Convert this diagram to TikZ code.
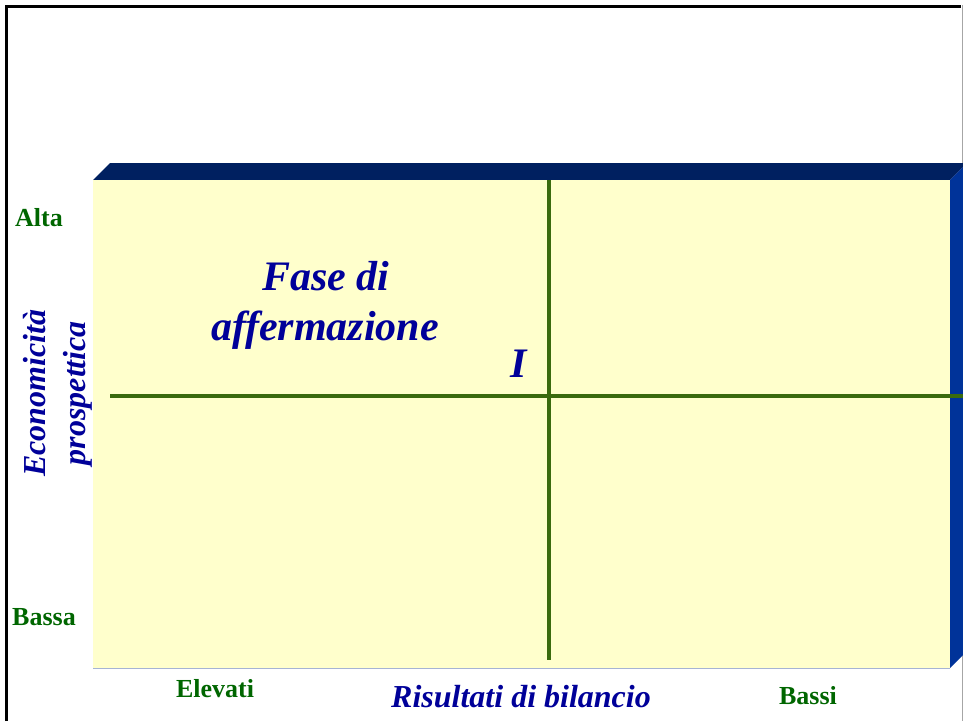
\documentclass[tikz,border=0pt]{standalone}
\usepackage{fontspec}
\setmainfont{Liberation Serif}
\definecolor{panel}{HTML}{FFFFCC}
\definecolor{topband}{HTML}{002060}
\definecolor{sideband}{HTML}{003399}
\definecolor{gridgreen}{HTML}{3A6B0E}
\definecolor{labgreen}{HTML}{006600}
\definecolor{navytext}{HTML}{000099}
\definecolor{edgeline}{HTML}{A6B4D4}
\tikzset{
  navylab/.style={text=navytext, font=\bfseries\itshape, inner sep=0pt, align=center},
  greenlab/.style={text=labgreen, font=\bfseries, inner sep=0pt},
  gridline/.style={draw=gridgreen, line width=4pt}
}
\begin{document}
\begin{tikzpicture}[x=1pt,y=-1pt]
\useasboundingbox (0,0) rectangle (963,721);
% frame
\draw[line width=3pt] (6,721) -- (6,6) -- (961,6);
\draw[gray!70, line width=1pt] (962,5) -- (962,721);
% 3D box
\fill[topband] (93,180) -- (110,163) -- (963,163) -- (963,167) -- (950,180) -- cycle;
\fill[sideband] (950,180) -- (963,167) -- (963,655) -- (950,668) -- cycle;
\fill[panel] (93,180) rectangle (950,668);
\draw[edgeline, line width=1pt] (93,668) -- (950,668);
% grid
\coordinate (hl) at (110,396);
\coordinate (hr) at (963,396);
\coordinate (vt) at (549,180);
\coordinate (vb) at (549,660);
\draw[gridline] (hl) -- (hr);
\draw[gridline] (vt) -- (vb);
% texts
\node[navylab, font=\fontsize{42}{50}\selectfont\bfseries\itshape, anchor=base] (fase) at (326,290) {Fase di};
\node[navylab, font=\fontsize{42}{50}\selectfont\bfseries\itshape, anchor=base] (aff) at (325,340) {affermazione};
\node[navylab, font=\fontsize{42}{50}\selectfont\bfseries\itshape, anchor=base] (roman) at (519,377) {I};
\node[navylab, font=\fontsize{32}{36}\selectfont\bfseries\itshape, anchor=base] (risult) at (521,707) {Risultati di bilancio};
\node[navylab, font=\fontsize{32}{40}\selectfont\bfseries\itshape, rotate=90] (econ) at (58,393) {Economicità\\prospettica};
\node[greenlab, font=\fontsize{26}{30}\selectfont\bfseries, anchor=base] (alta) at (39,226) {Alta};
\node[greenlab, font=\fontsize{26}{30}\selectfont\bfseries, anchor=base] (bassa) at (44,625) {Bassa};
\node[greenlab, font=\fontsize{26}{30}\selectfont\bfseries, anchor=base] (elev) at (215,697) {Elevati};
\node[greenlab, font=\fontsize{26}{30}\selectfont\bfseries, anchor=base] (bassi) at (808,704) {Bassi};
\end{tikzpicture}
\end{document}
